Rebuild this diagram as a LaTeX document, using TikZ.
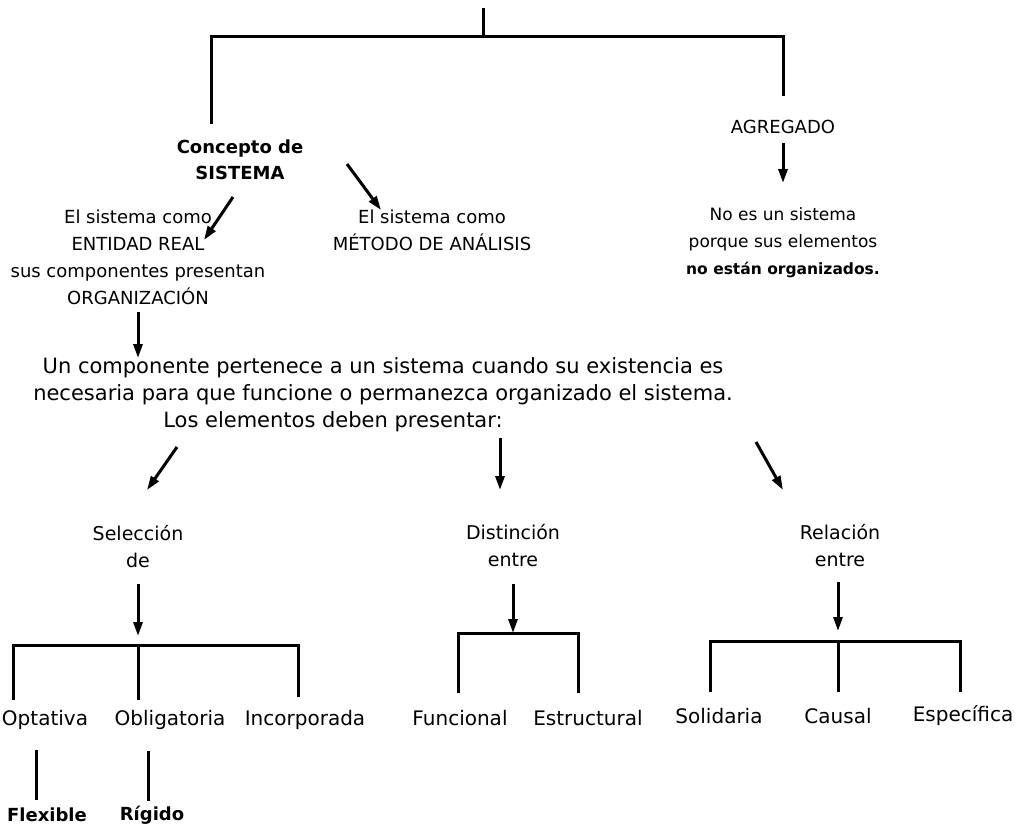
\documentclass[tikz,border=0pt]{standalone}
\usepackage{fontspec}
\setmainfont{DejaVu Sans}
\usetikzlibrary{arrows.meta}
\begin{document}
\begin{tikzpicture}[x=1pt,y=-1pt,
  txt/.style={align=center,inner sep=0pt,font=\fontsize{18}{27}\selectfont},
  grp/.style={align=center,inner sep=0pt,font=\fontsize{19}{27}\selectfont},
  big/.style={align=center,inner sep=0pt,font=\fontsize{21}{27}\selectfont},
  lbl/.style={align=center,inner sep=0pt,font=\fontsize{20}{27}\selectfont},
  bld/.style={align=center,inner sep=0pt,font=\fontsize{18}{26}\selectfont\bfseries},
  ln/.style={line width=3pt},
  arr/.style={line width=3pt,-{Triangle[length=14pt,width=9pt]}}]
\useasboundingbox (0,0) rectangle (1033,830);

% top split
\coordinate (root) at (483,8);
\coordinate (rootj) at (483,36);
\coordinate (lft) at (211,124);
\coordinate (rgt) at (783,96);
\draw[ln] (root) -- (rootj);
\draw[ln] (lft) |- (rootj) -| (rgt);

% first level
\node[bld] (concepto) at (240,160) {Concepto de\\SISTEMA};
\node[txt] (agregado) at (783,127) {AGREGADO};
\node[txt] (entidad) at (138,257) {El sistema como\\ENTIDAD REAL\\sus componentes presentan\\ORGANIZACIÓN};
\node[txt] (metodo) at (432,230) {El sistema como\\MÉTODO DE ANÁLISIS};
\node[align=center,inner sep=0pt,font=\fontsize{17}{27}\selectfont] (noes) at (783,243)
  {No es un sistema\\porque sus elementos\\{\fontsize{15.5}{27}\selectfont\bfseries no están organizados.}};

\coordinate (a1s) at (233,197); \coordinate (a1e) at (204,240);
\coordinate (a2s) at (347,164); \coordinate (a2e) at (381,210);
\coordinate (a3s) at (783,143); \coordinate (a3e) at (783,183);
\draw[arr] (a1s) -- (a1e);
\draw[arr] (a2s) -- (a2e);
\draw[arr] (a3s) -- (a3e);

% component definition
\coordinate (a4s) at (138,312); \coordinate (a4e) at (138,358);
\draw[arr] (a4s) -- (a4e);
\node[big] (comp) at (383,381) {Un componente pertenece a un sistema cuando su existencia es\\necesaria para que funcione o permanezca organizado el sistema.};
\node[big] (los) at (333,422) {Los elementos deben presentar:};

\coordinate (b1s) at (177,447); \coordinate (b1e) at (147,490);
\coordinate (b2s) at (500,438); \coordinate (b2e) at (500,490);
\coordinate (b3s) at (756,442); \coordinate (b3e) at (783,490);
\draw[arr] (b1s) -- (b1e);
\draw[arr] (b2s) -- (b2e);
\draw[arr] (b3s) -- (b3e);

% three groups
\node[grp] (sel) at (138,547) {Selección\\de};
\node[grp] (dis) at (513,546) {Distinción\\entre};
\node[grp] (rel) at (840,546) {Relación\\entre};

\coordinate (c1s) at (138,584); \coordinate (c1e) at (138,636);
\coordinate (c2s) at (513,584); \coordinate (c2e) at (513,633);
\coordinate (c3s) at (838,582); \coordinate (c3e) at (838,631);
\draw[arr] (c1s) -- (c1e);
\draw[arr] (c2s) -- (c2e);
\draw[arr] (c3s) -- (c3e);

% selection bracket
\node[lbl] (opt) at (45,720) {Optativa};
\node[lbl] (obl) at (170,720) {Obligatoria};
\node[lbl] (inc) at (305,720) {Incorporada};
\coordinate (s1) at (13,700); \coordinate (s2) at (138,700); \coordinate (s3) at (298,697);
\coordinate (sbar) at (138,645);
\draw[ln] (s1) |- (sbar) -| (s3);
\draw[ln] (s2) -- (sbar);

\node[bld] (flex) at (47,815) {Flexible};
\node[bld] (rig) at (152,815) {Rígido};
\coordinate (f1) at (36,750); \coordinate (f2) at (36,800);
\coordinate (r1) at (148,751); \coordinate (r2) at (148,801);
\draw[ln] (f1) -- (f2);
\draw[ln] (r1) -- (r2);

% distinction bracket
\node[lbl] (fun) at (460,718) {Funcional};
\node[lbl] (est) at (588,718) {Estructural};
\coordinate (d1) at (458,693); \coordinate (d2) at (578,693);
\draw[ln] (d1) |- (c2e) -| (d2);

% relation bracket
\node[lbl] (sol) at (719,716) {Solidaria};
\node[lbl] (cau) at (838,716) {Causal};
\node[lbl] (esp) at (963,716) {Específica};
\coordinate (e1) at (710,692); \coordinate (e2) at (838,692); \coordinate (e3) at (960,692);
\coordinate (ebar) at (838,641);
\draw[ln] (e1) |- (ebar) -| (e3);
\draw[ln] (e2) -- (ebar);
\end{tikzpicture}
\end{document}
